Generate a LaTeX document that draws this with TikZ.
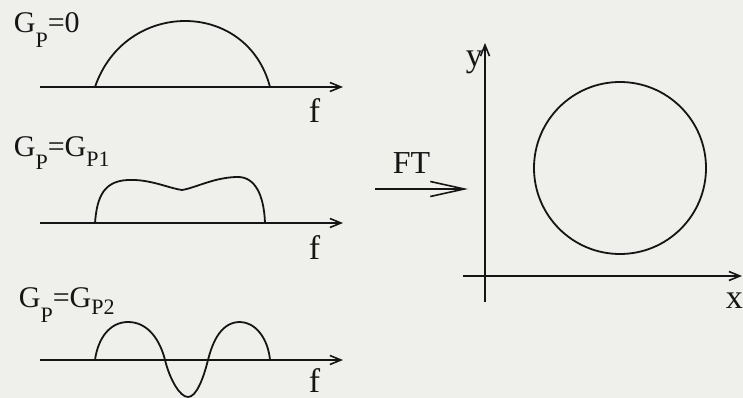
\documentclass[tikz,border=0pt]{standalone}
\usepackage{fontspec}
\setmainfont{Liberation Serif}
\usepackage{xcolor}
\usetikzlibrary{positioning, arrows.meta}
\definecolor{scanpaper}{HTML}{EFEFEC}
\definecolor{scanink}{HTML}{151515}
\newcommand{\gsub}[2]{\raisebox{-#1}{\fontsize{22}{22}\selectfont #2}}

\begin{document}
\begin{tikzpicture}[x=1pt, y=-1pt, line width=1.8pt, color=scanink,
    axis/.style={-{Straight Barb[length=11pt, width=9pt]}, line width=1.6pt},
    spectrum/.style={line join=round},
    glabel/.style={anchor=base west, inner sep=0pt, font=\fontsize{30}{36}\selectfont},
    axlabel/.style={anchor=base west, inner sep=0pt, font=\fontsize{34}{40}\selectfont}]
  \fill[scanpaper] (0,0) rectangle (743,398);
  \useasboundingbox (0,0) rectangle (743,398);

  % frequency axes
  \foreach \i/\ya/\yf in {1/87/123, 2/223/259, 3/360/392} {
    \coordinate (fa\i) at (40,\ya);
    \coordinate (fb\i) at (343,\ya);
    \draw[axis] (fa\i) -- (fb\i);
    \node[axlabel] (f\i) at (308,\yf) {f};
  }

  % spectra
  \draw[spectrum] (95,87) .. controls (125,-1) and (247,-1) .. (270,87);
  \draw[spectrum] (95,223) .. controls (97,195) and (105,181) .. (128,180)
    .. controls (150,179) and (168,188) .. (182,190)
    .. controls (195,188) and (215,177) .. (238,177)
    .. controls (255,177) and (264,195) .. (265,223);
  \draw[spectrum] (95,360) .. controls (98,338) and (110,322) .. (128,322)
    .. controls (148,322) and (160,340) .. (165,360)
    .. controls (170,380) and (180,397) .. (188,397)
    .. controls (196,397) and (203,380) .. (208,360)
    .. controls (213,340) and (222,322) .. (240,322)
    .. controls (255,322) and (268,338) .. (270,360);

  \node[glabel] (g0) at (13,33) {G\gsub{15pt}{P}=0};
  \node[glabel] (g1) at (13,157) {G\gsub{13pt}{P}=G\gsub{10pt}{P1}};
  \node[glabel] (g2) at (18,307) {G\gsub{15pt}{P}=G\gsub{7pt}{P2}};

  % transform
  \coordinate (ftin) at (375,189);
  \coordinate (ftout) at (468,189);
  \draw[-{Straight Barb[length=34pt, width=15pt]}, line width=1.6pt] (ftin) -- (ftout);
  \node[glabel, font=\fontsize{32}{38}\selectfont] (ft) at (392,173) {FT};

  % image plane
  \coordinate (xa) at (463,276);
  \coordinate (xb) at (742,276);
  \coordinate (ya) at (485,302);
  \coordinate (yb) at (485,43);
  \draw[axis] (xa) -- (xb);
  \draw[axis] (ya) -- (yb);
  \node[axlabel] (xl) at (725,308) {x};
  \node[axlabel] (yl) at (465,67) {y};
  \draw (620,168) circle[radius=86pt];
\end{tikzpicture}
\end{document}
